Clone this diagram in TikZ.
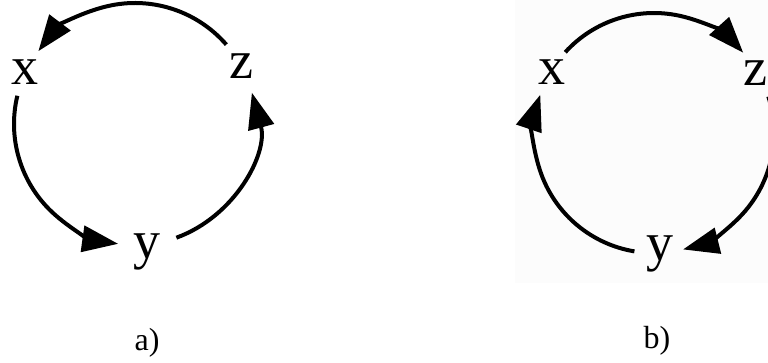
\documentclass[tikz,border=0pt]{standalone}
\usepackage{fontspec}
\setmainfont{Liberation Serif}
\usetikzlibrary{arrows.meta}
\begin{document}
\begin{tikzpicture}[x=1pt,y=1pt,
  letter/.style={inner sep=0pt, font=\fontsize{54}{54}\selectfont},
  caption/.style={inner sep=0pt, font=\fontsize{32}{32}\selectfont},
  cyc/.style={line width=4pt, -{Triangle[length=36pt,width=26pt]}}]
\useasboundingbox (0,0) rectangle (768,-363);
\fill[black!1.2] (515,0) rectangle (768,-283);
% panel a
\coordinate (ca) at (135,-124);
\node[letter] (xa) at (25,-72.5) {x};
\node[letter] (za) at (241.5,-66) {z};
\node[letter] (ya) at (146.5,-252) {y};
\draw[cyc] ([shift={(41:121)}]ca) coordinate (a1) arc[start angle=41,end angle=143,radius=121pt];
\draw[cyc] ([shift={(166.5:121)}]ca) coordinate (a2) arc[start angle=166.5,end angle=262,radius=121pt];
\draw[cyc] ([shift={(290:121)}]ca) coordinate (a3) arc[start angle=290,end angle=375,radius=121pt];
\node[caption] (capa) at (147,-343) {a)};
% panel b
\coordinate (cb) at (654,-133);
\node[letter] (xb) at (552,-72.5) {x};
\node[letter] (zb) at (755,-73.5) {z};
\node[letter] (yb) at (659.5,-254) {y};
\draw[cyc] ([shift={(137.7:120)}]cb) coordinate (b1) arc[start angle=137.7,end angle=42,radius=120pt];
\draw[cyc] ([shift={(17.7:120)}]cb) coordinate (b2) arc[start angle=17.7,end angle=-76,radius=120pt];
\draw[cyc] ([shift={(260.6:120)}]cb) coordinate (b3) arc[start angle=260.6,end angle=161.4,radius=120pt];
\node[caption] (capb) at (657,-341) {b)};
\end{tikzpicture}
\end{document}
